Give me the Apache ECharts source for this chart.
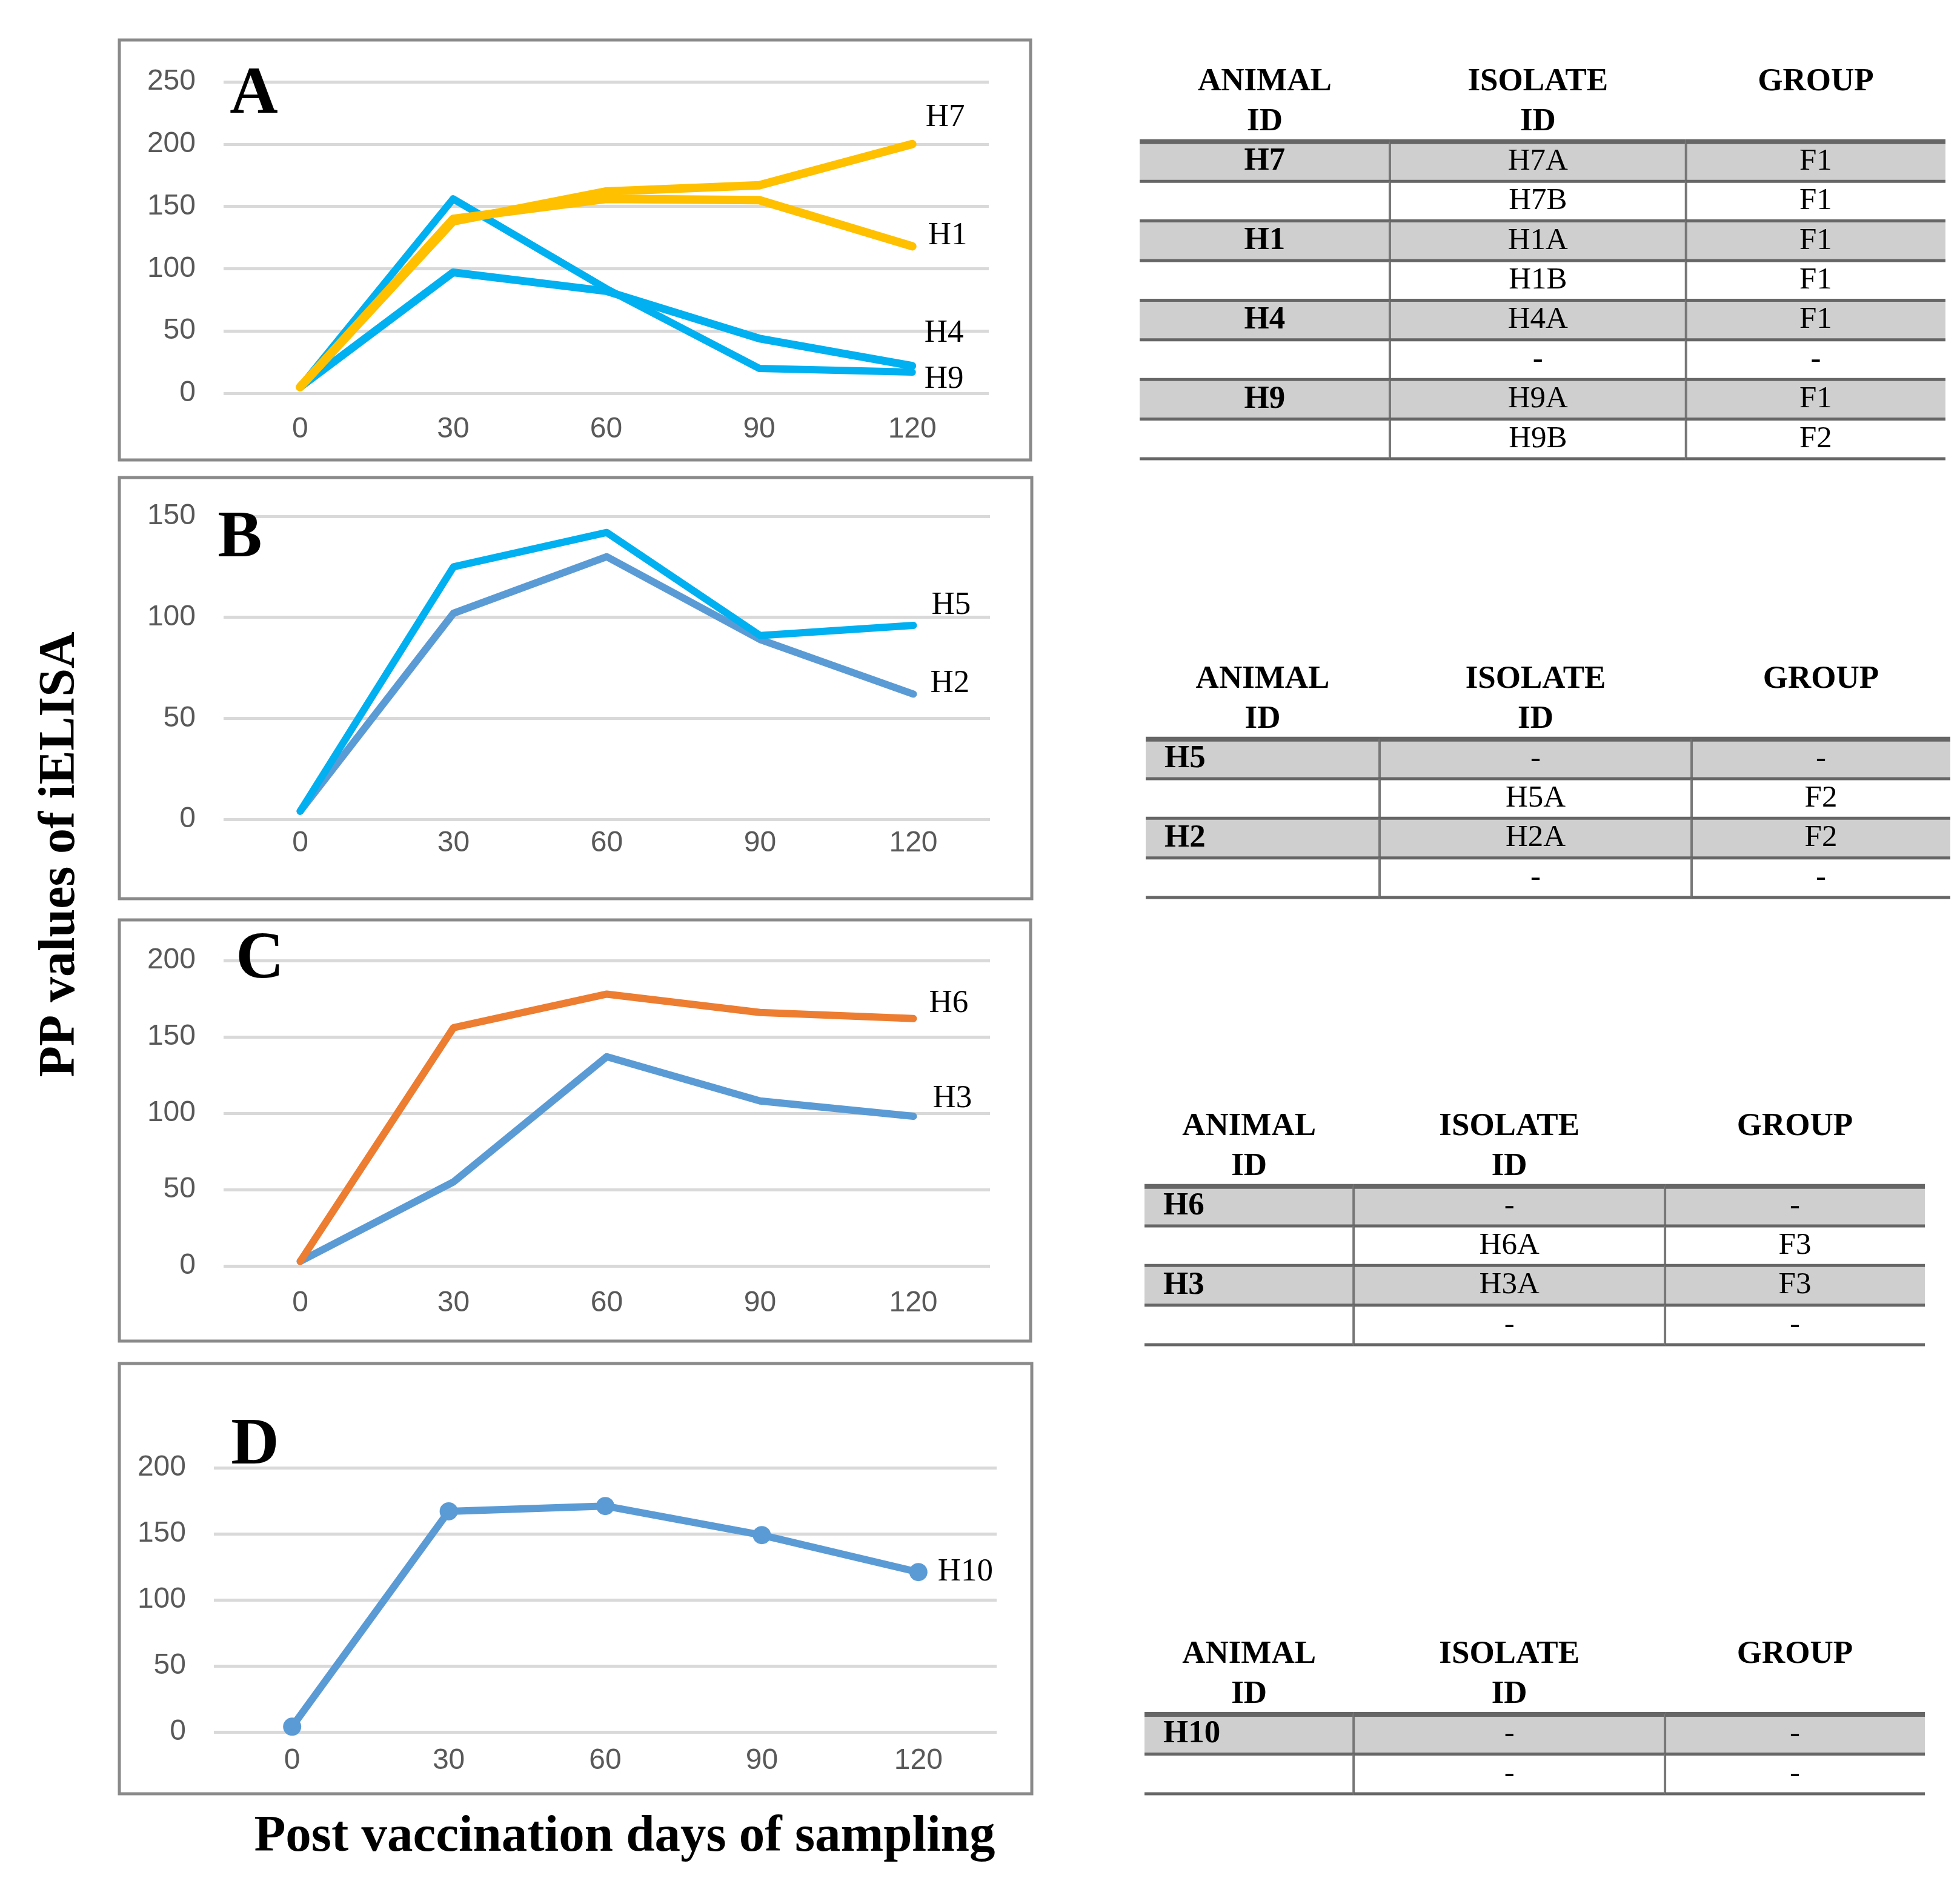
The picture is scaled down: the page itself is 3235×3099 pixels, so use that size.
<!DOCTYPE html>
<html>
<head>
<meta charset="utf-8">
<title>PP values of iELISA</title>
<script src="https://cdn.jsdelivr.net/npm/echarts@6/dist/echarts.min.js"></script>
<style>
  html, body { margin: 0; padding: 0; background: #fff; }
  #main { width: 3235px; height: 3099px; }
</style>
</head>
<body>
<div id="main"></div>
<script>
// days of sampling (category axis)
var days = ['0', '30', '60', '90', '120'];

// panel A
var h7 = [5, 138, 162, 167, 200];
var h1 = [5, 140, 156, 155, 118];
var h4 = [5, 97, 82, 44, 22];
var h9 = [5, 156, 84, 20, 17];
// panel B
var h5 = [4, 125, 142, 91, 96];
var h2 = [4, 102, 130, 89, 62];
// panel C
var h6 = [3, 156, 178, 166, 162];
var h3 = [3, 55, 137, 108, 98];
// panel D
var h10 = [4, 167, 171, 149, 121];

// tables
var tableHead1 = ['ANIMAL', 'ISOLATE', 'GROUP'];
var tableHead2 = ['ID', 'ID', ''];

var animalA = ['H7', '', 'H1', '', 'H4', '', 'H9', ''];
var isolateA = ['H7A', 'H7B', 'H1A', 'H1B', 'H4A', '-', 'H9A', 'H9B'];
var groupA = ['F1', 'F1', 'F1', 'F1', 'F1', '-', 'F1', 'F2'];

var animalB = ['H5', '', 'H2', ''];
var isolateB = ['-', 'H5A', 'H2A', '-'];
var groupB = ['-', 'F2', 'F2', '-'];

var animalC = ['H6', '', 'H3', ''];
var isolateC = ['-', 'H6A', 'H3A', '-'];
var groupC = ['-', 'F3', 'F3', '-'];

var animalD = ['H10', ''];
var isolateD = ['-', '-'];
var groupD = ['-', '-'];

var YELLOW = '#FFC000', CYAN = '#00B0F0', BLUE = '#5B9BD5', ORANGE = '#ED7D31';
var SERIF = '"Liberation Serif", "Times New Roman", serif';
var SANS = '"Liberation Sans", Arial, sans-serif';

var myChart = echarts.init(document.getElementById('main'));

// chart panels layout
var panels = [
    {grid: {left: 369, top: 135, width: 1263, height: 514}, max: 250, xMargin: 36},
    {grid: {left: 369, top: 852, width: 1265, height: 500}, max: 150, xMargin: 16},
    {grid: {left: 369, top: 1585, width: 1265, height: 504}, max: 200, xMargin: 38},
    {grid: {left: 353, top: 2422, width: 1292, height: 436}, max: 200, xMargin: 24}
];

// table layout
var tables = [
    {grid: {left: 1881, top: 103, width: 1330, height: 654}, edges: [0, 0.3105, 0.678, 1], leftAlign: false,
        cols: [animalA, isolateA, groupA]},
    {grid: {left: 1891, top: 1089, width: 1328, height: 392}, edges: [0, 0.2907, 0.6785, 1], leftAlign: true,
        cols: [animalB, isolateB, groupB]},
    {grid: {left: 1889, top: 1827, width: 1288, height: 392}, edges: [0, 0.268, 0.667, 1], leftAlign: true,
        cols: [animalC, isolateC, groupC]},
    {grid: {left: 1889, top: 2698, width: 1288, height: 262}, edges: [0, 0.268, 0.667, 1], leftAlign: true,
        cols: [animalD, isolateD, groupD]}
];

var grids = [], xAxes = [], yAxes = [], series = [];

panels.forEach(function(p, i){
    grids.push(p.grid);
    xAxes.push({
        type: 'category', gridIndex: i, data: days,
        axisLine: {show: false}, axisTick: {show: false},
        axisLabel: {fontSize: 48, color: '#595959', fontFamily: SANS, margin: p.xMargin}
    });
    yAxes.push({
        type: 'value', gridIndex: i, min: 0, max: p.max, interval: 50,
        axisLine: {show: false}, axisTick: {show: false},
        axisLabel: {fontSize: 48, color: '#595959', fontFamily: SANS, margin: 46},
        splitLine: {lineStyle: {color: '#D9D9D9', width: 5}}
    });
});

function lineSeries(name, data, idx, color, width, offset, marker){
    return {
        name: name, type: 'line', xAxisIndex: idx, yAxisIndex: idx, data: data,
        symbol: marker ? 'circle' : 'none', symbolSize: 30, showSymbol: !!marker,
        lineStyle: {color: color, width: width, cap: 'round', join: 'round'},
        itemStyle: {color: color},
        endLabel: {
            show: true, formatter: name, distance: 0, offset: offset,
            color: '#000', fontSize: 53, fontFamily: SERIF
        }
    };
}

series.push(lineSeries('H4', h4, 0, CYAN, 13, [20, -54]));
series.push(lineSeries('H9', h9, 0, CYAN, 12, [20, 12]));
series.push(lineSeries('H1', h1, 0, YELLOW, 14, [26, -17]));
series.push(lineSeries('H7', h7, 0, YELLOW, 14, [22, -44]));

series.push(lineSeries('H2', h2, 1, BLUE, 12, [28, -17]));
series.push(lineSeries('H5', h5, 1, CYAN, 12, [30, -33]));

series.push(lineSeries('H3', h3, 2, BLUE, 12, [32, -29]));
series.push(lineSeries('H6', h6, 2, ORANGE, 12, [26, -25]));

series.push(lineSeries('H10', h10, 3, BLUE, 12, [32, 0], true));

// tables drawn as custom series on hidden axes
tables.forEach(function(t, k){
    var gi = panels.length + k;
    var nData = t.cols[0].length;
    var rows = [];
    for (var r = 0; r < nData + 2; r++) rows.push(String(r));
    grids.push(t.grid);
    xAxes.push({type: 'value', gridIndex: gi, min: 0, max: 1, show: false});
    yAxes.push({type: 'category', gridIndex: gi, data: rows, inverse: true, show: false});

    var data = [];
    for (var r = 0; r < nData + 2; r++) {
        for (var c = 0; c < 3; c++) {
            data.push([t.edges[c], r, t.edges[c + 1], c]);
        }
    }

    series.push({
        type: 'custom', xAxisIndex: gi, yAxisIndex: gi, data: data, silent: true,
        renderItem: function(params, api){
            var x0v = api.value(0), r = api.value(1), x1v = api.value(2), c = api.value(3);
            var p0 = api.coord([x0v, r]), p1 = api.coord([x1v, r]);
            var h = api.size([0, 1])[1];
            var top = p0[1] - h / 2;
            var dr = r - 2;
            var children = [];
            var text, bold = false;
            if (dr < 0) {
                text = dr == -2 ? tableHead1[c] : tableHead2[c];
                bold = true;
            } else {
                text = t.cols[c][dr];
                bold = c == 0;
                if (dr % 2 == 0) {
                    children.push({type: 'rect', shape: {x: p0[0], y: top, width: p1[0] - p0[0], height: h},
                        style: {fill: '#CFCFCF'}});
                }
                if (c > 0) {
                    children.push({type: 'line', shape: {x1: p0[0], y1: top, x2: p0[0], y2: top + h},
                        style: {stroke: '#777777', lineWidth: 4}});
                }
                children.push({type: 'line', shape: {x1: p0[0], y1: top, x2: p1[0], y2: top},
                    style: {stroke: '#666666', lineWidth: dr == 0 ? 8 : 5}});
                if (dr == nData - 1) {
                    children.push({type: 'line', shape: {x1: p0[0], y1: top + h, x2: p1[0], y2: top + h},
                        style: {stroke: '#666666', lineWidth: 5}});
                }
            }
            var left = c == 0 && dr >= 0 && t.leftAlign;
            children.push({type: 'text', style: {
                text: text,
                x: left ? p0[0] + 31 : (p0[0] + p1[0]) / 2,
                y: p0[1],
                align: left ? 'left' : 'center', verticalAlign: 'middle',
                fontSize: bold ? 53 : 51, fontWeight: bold ? 'bold' : 'normal',
                fontFamily: SERIF, fill: '#000'
            }});
            return {type: 'group', children: children};
        }
    });
});

// panel boxes, letters, axis titles
var boxes = [[197, 66, 1504, 693], [197, 788, 1506, 695], [197, 1518, 1504, 695], [197, 2250, 1506, 710]];
var letters = [['A', 419, 158], ['B', 396, 890], ['C', 429, 1585], ['D', 421, 2387]];
var graphics = [];
boxes.forEach(function(b){
    graphics.push({type: 'rect', z: 0, shape: {x: b[0], y: b[1], width: b[2], height: b[3]},
        style: {fill: 'none', stroke: '#8A8A8A', lineWidth: 5}});
});
letters.forEach(function(l){
    graphics.push({type: 'text', x: l[1], y: l[2], z: 10, style: {
        text: l[0], align: 'center', verticalAlign: 'middle',
        fontSize: 110, fontWeight: 'bold', fontFamily: SERIF, fill: '#000'}});
});
graphics.push({type: 'text', x: 100, y: 1410, rotation: Math.PI / 2, style: {
    text: 'PP values of iELISA', align: 'center', verticalAlign: 'middle',
    fontSize: 84, fontWeight: 'bold', fontFamily: SERIF, fill: '#000'}});
graphics.push({type: 'text', x: 1031, y: 3032, style: {
    text: 'Post vaccination days of sampling', align: 'center', verticalAlign: 'middle',
    fontSize: 85, fontWeight: 'bold', fontFamily: SERIF, fill: '#000'}});

myChart.setOption({
    backgroundColor: '#fff',
    animation: false,
    grid: grids,
    xAxis: xAxes,
    yAxis: yAxes,
    series: series,
    graphic: graphics
});
</script>
</body>
</html>
